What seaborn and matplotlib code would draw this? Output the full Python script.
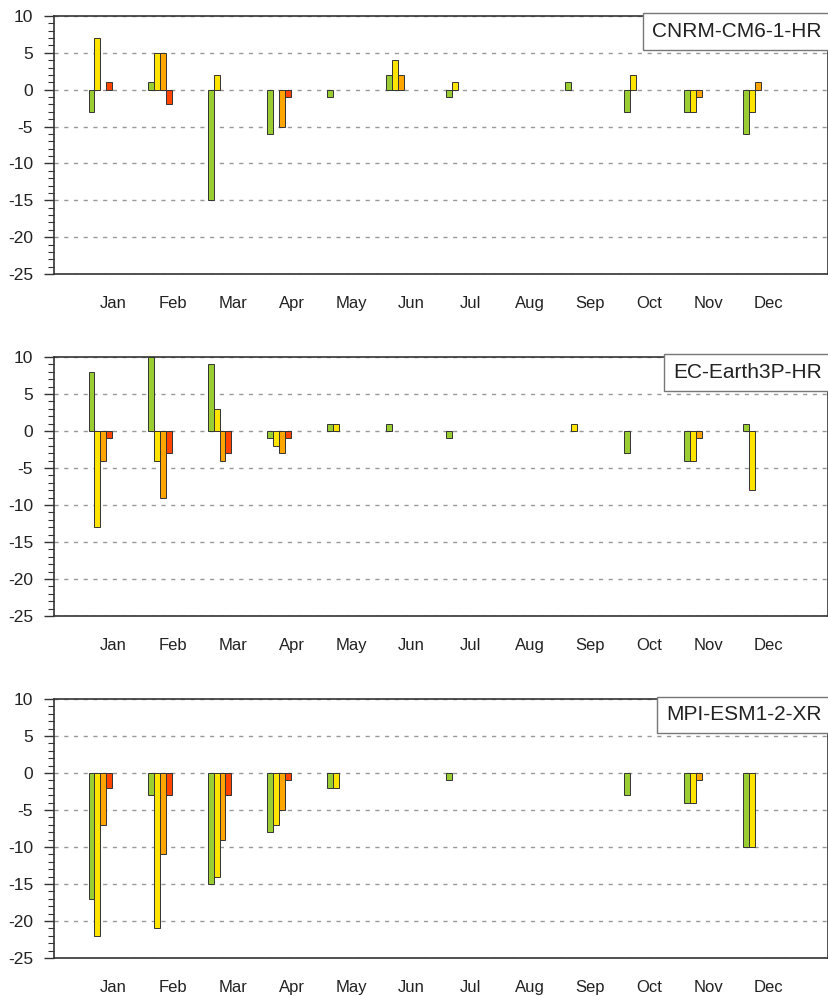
import numpy as np
import pandas as pd
import matplotlib
matplotlib.use("Agg")
import matplotlib.pyplot as plt
import seaborn as sns
from matplotlib.offsetbox import AnchoredText
from matplotlib.ticker import MultipleLocator

months = ["Jan", "Feb", "Mar", "Apr", "May", "Jun", "Jul", "Aug", "Sep", "Oct", "Nov", "Dec"]
series_names = ["s1", "s2", "s3", "s4"]
series_colors = ["#9acd32", "#ffe400", "#ffa500", "#ff4500"]
model_names = ["CNRM-CM6-1-HR", "EC-Earth3P-HR", "MPI-ESM1-2-XR"]

# CNRM-CM6-1-HR
cnrm_s1 = [-3, 1, -15, -6, -1, 2, -1, 0, 1, -3, -3, -6]
cnrm_s2 = [7, 5, 2, 0, 0, 4, 1, 0, 0, 2, -3, -3]
cnrm_s3 = [0, 5, 0, -5, 0, 2, 0, 0, 0, 0, -1, 1]
cnrm_s4 = [1, -2, 0, -1, 0, 0, 0, 0, 0, 0, 0, 0]

# EC-Earth3P-HR
ec_s1 = [8, 10, 9, -1, 1, 1, -1, 0, 0, -3, -4, 1]
ec_s2 = [-13, -4, 3, -2, 1, 0, 0, 0, 1, 0, -4, -8]
ec_s3 = [-4, -9, -4, -3, 0, 0, 0, 0, 0, 0, -1, 0]
ec_s4 = [-1, -3, -3, -1, 0, 0, 0, 0, 0, 0, 0, 0]

# MPI-ESM1-2-XR
mpi_s1 = [-17, -3, -15, -8, -2, 0, -1, 0, 0, -3, -4, -10]
mpi_s2 = [-22, -21, -14, -7, -2, 0, 0, 0, 0, 0, -4, -10]
mpi_s3 = [-7, -11, -9, -5, 0, 0, 0, 0, 0, 0, -1, 0]
mpi_s4 = [-2, -3, -3, -1, 0, 0, 0, 0, 0, 0, 0, 0]

panels = [
    [cnrm_s1, cnrm_s2, cnrm_s3, cnrm_s4],
    [ec_s1, ec_s2, ec_s3, ec_s4],
    [mpi_s1, mpi_s2, mpi_s3, mpi_s4],
]

sns.set_theme(style="white")
plt.rcParams["font.family"] = ["Liberation Sans", "DejaVu Sans"]
plt.rcParams["axes.unicode_minus"] = False

fig = plt.figure(figsize=(8.29, 9.96), dpi=100)
left = 54 / 829
width = (828 - 54) / 829
tops = [16, 357, 699]
bottoms = [274, 616, 958]

for k, (vals, name) in enumerate(zip(panels, model_names)):
    y0 = 1 - bottoms[k] / 996
    h = (bottoms[k] - tops[k]) / 996
    ax = fig.add_axes([left, y0, width, h])
    rows = []
    for sname, sv in zip(series_names, vals):
        for m, v in zip(months, sv):
            if v != 0:
                rows.append({"month": m, "series": sname, "value": v})
    df = pd.DataFrame(rows)
    sns.barplot(data=df, x="month", y="value", hue="series",
                order=months, hue_order=series_names,
                palette=series_colors, saturation=1, width=0.4,
                dodge=True, edgecolor="#333333", linewidth=0.7,
                legend=False, errorbar=None, ax=ax, zorder=3)
    ax.set_xlim(-0.78, 12.22)
    ax.set_ylim(-25, 10)
    ax.set_xticks(np.arange(12) + 0.22)
    ax.set_xticklabels(months, fontsize=12, color="#222222")
    ax.set_xlabel("")
    ax.set_ylabel("")
    ax.yaxis.set_major_locator(MultipleLocator(5))
    ax.yaxis.set_minor_locator(MultipleLocator(1))
    ax.set_yticks(np.arange(-25, 11, 5))
    ax.set_yticklabels([str(v) for v in range(-25, 11, 5)], fontsize=12.5, color="#222222")
    ax.tick_params(axis="x", length=0, pad=16)
    ax.tick_params(axis="y", which="major", direction="out", length=7, width=1,
                   color="#333333", pad=8, left=True)
    ax.tick_params(axis="y", which="minor", direction="out", length=4.5, width=0.8,
                   color="#333333", left=True)
    ax.yaxis.grid(True, which="major", linestyle=(0, (3, 4)), color="#999999", linewidth=1)
    ax.xaxis.grid(False)
    ax.set_axisbelow(True)
    for sp in ax.spines.values():
        sp.set_visible(True)
        sp.set_color("#333333")
        sp.set_linewidth(1.2)
    at = AnchoredText(name, loc="upper right", prop=dict(size=15, color="#222222"),
                      frameon=True, pad=0.3, borderpad=0.0)
    at.patch.set_edgecolor("#777777")
    at.patch.set_linewidth(1.0)
    at.patch.set_boxstyle("square,pad=0.12")
    ax.add_artist(at)

fig.savefig("out.png", dpi=100)
